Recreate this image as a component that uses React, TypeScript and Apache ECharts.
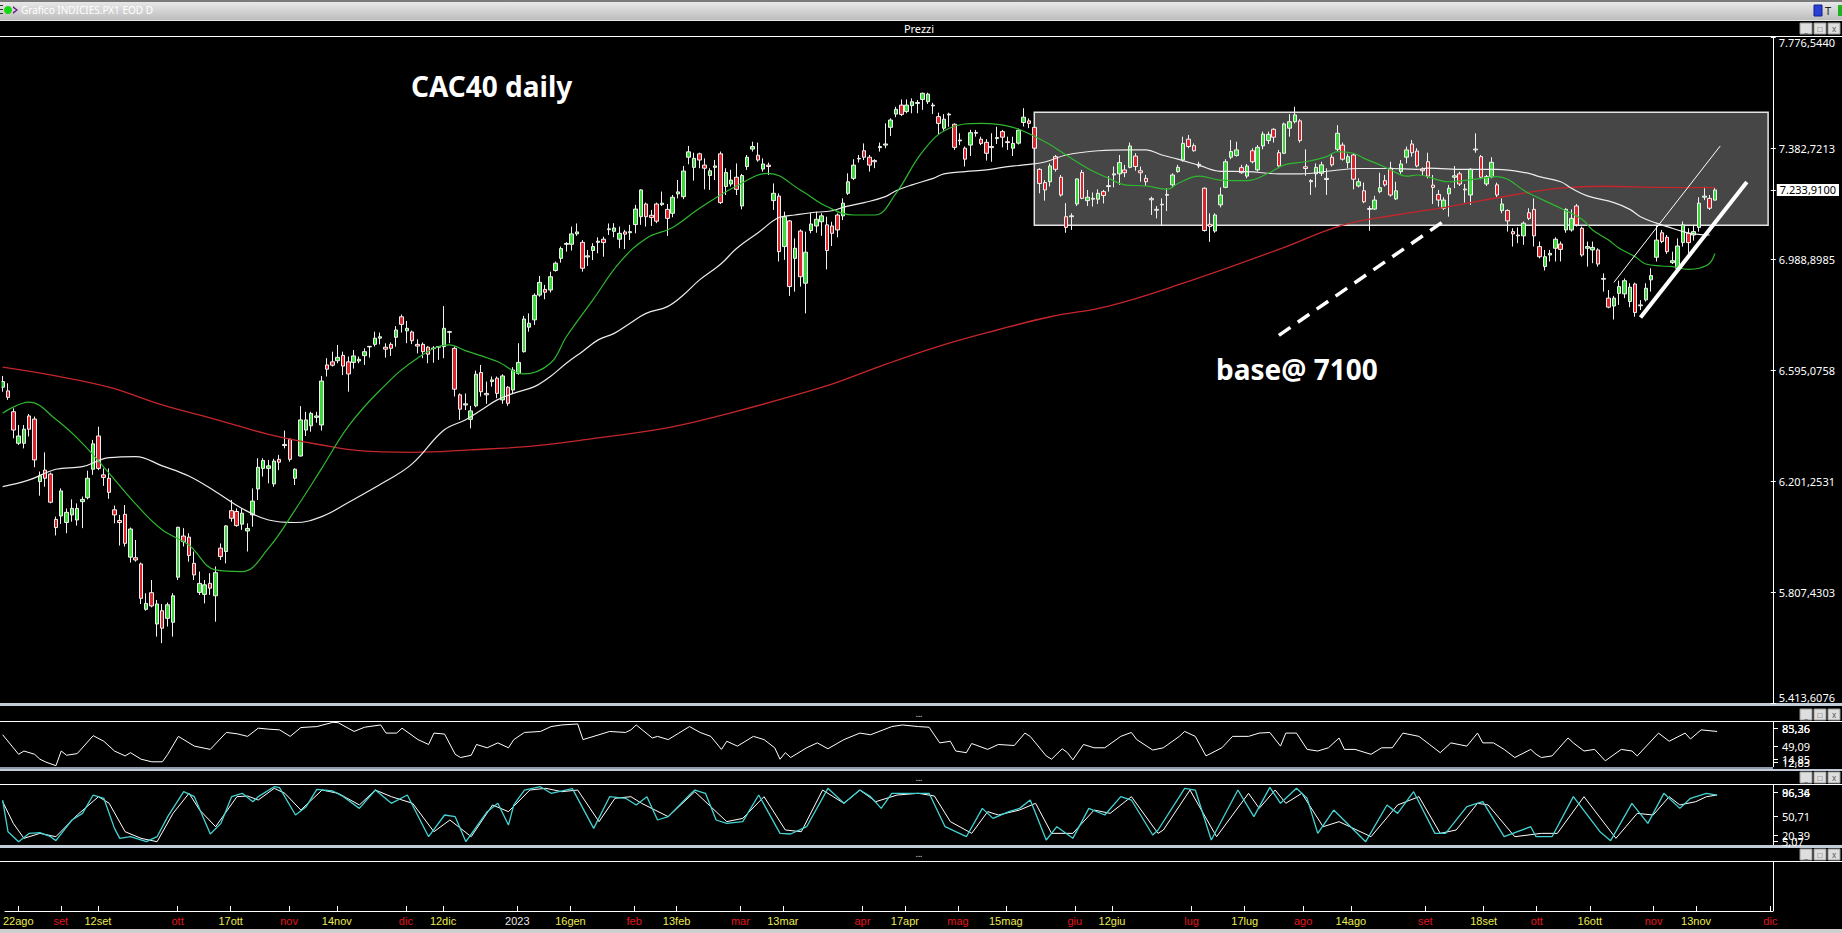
import React, { useEffect, useRef } from "react";
import * as echarts from "echarts";

// ---------- DATA (index 0 = 18 ago 2022, one slot per trading day) ----------
const CATEGORY_COUNT = 333;

// [open, close, low, high]
const CANDLES: number[][] = [
  [6534,6554,6518,6574],[6521,6498,6489,6548],[6447,6382,6353,6459],[6335,6361,6329,6400],[6335,6385,6317,6400],
  [6432,6385,6359,6439],[6421,6276,6250,6430],[6199,6220,6149,6235],[6240,6211,6181,6303],[6226,6126,6122,6231],
  [6065,6036,6008,6075],[6077,6166,6049,6175],[6054,6090,6016,6104],[6081,6104,6057,6136],[6063,6104,6043,6122],
  [6128,6136,6034,6146],[6142,6211,6136,6238],[6243,6333,6223,6347],[6361,6246,6240,6394],[6223,6214,6184,6246],
  [6211,6161,6138,6246],[6099,6081,6051,6114],[6061,6054,5972,6081],[6083,5980,5969,6116],[5931,6031,5912,6036],
  [5929,5921,5915,5992],[5907,5785,5765,5912],[5746,5767,5741,5803],[5805,5758,5753,5850],[5694,5765,5649,5779],
  [5741,5679,5626,5765],[5714,5762,5685,5770],[5700,5794,5649,5803],[5860,6037,5850,6039],[6006,5986,5969,6034],
  [6002,5937,5915,6016],[5909,5868,5850,5951],[5806,5838,5797,5880],[5799,5833,5767,5850],[5838,5821,5797,5874],
  [5794,5876,5702,5898],[5963,5933,5921,5980],[5951,6042,5909,6045],[6096,6069,6057,6134],[6093,6043,6039,6104],
  [6048,6087,6028,6104],[6024,6033,5951,6051],[6081,6130,6039,6175],[6173,6250,6134,6282],[6246,6274,6217,6282],
  [6246,6255,6193,6276],[6191,6272,6181,6280],[6278,6268,6240,6294],[6327,6331,6317,6380],[6349,6278,6270,6353],
  [6211,6243,6187,6246],[6290,6418,6288,6467],[6382,6418,6361,6447],[6397,6441,6376,6447],[6427,6432,6408,6447],
  [6400,6556,6380,6574],[6613,6598,6572,6637],[6624,6612,6607,6660],[6628,6640,6619,6684],[6647,6609,6577,6660],
  [6624,6581,6518,6643],[6622,6645,6600,6666],[6627,6633,6619,6643],[6646,6660,6613,6672],[6677,6679,6639,6680],
  [6686,6708,6678,6731],[6708,6713,6686,6728],[6676,6669,6639,6690],[6686,6672,6645,6693],[6711,6737,6678,6751],
  [6784,6757,6728,6792],[6734,6743,6690,6769],[6730,6699,6687,6735],[6686,6680,6654,6704],[6686,6660,6637,6693],
  [6676,6651,6619,6680],[6673,6671,6621,6680],[6676,6678,6631,6680],[6678,6743,6637,6822],[6729,6731,6690,6734],
  [6672,6527,6501,6678],[6507,6456,6418,6512],[6471,6475,6453,6512],[6420,6450,6388,6468],[6468,6580,6463,6593],
  [6586,6518,6501,6613],[6512,6507,6475,6554],[6554,6560,6536,6572],[6566,6512,6495,6572],[6489,6574,6475,6580],
  [6534,6477,6468,6538],[6524,6595,6512,6605],[6583,6622,6578,6690],[6660,6776,6657,6787],[6747,6761,6731,6796],
  [6773,6860,6755,6867],[6861,6906,6855,6929],[6881,6871,6846,6897],[6879,6926,6870,6944],[6948,6974,6944,6980],
  [6991,7026,6976,7033],[7041,7044,7015,7049],[7041,7078,7019,7104],[7078,7085,7071,7115],[7048,6956,6944,7056],
  [6996,7000,6964,7021],[7019,7033,6985,7045],[7048,7052,7009,7066],[7059,7047,6997,7068],[7093,7096,7074,7115],
  [7087,7099,7066,7116],[7059,7080,7027,7104],[7085,7077,7024,7092],[7082,7086,7056,7110],[7111,7166,7080,7181],
  [7139,7234,7110,7236],[7184,7139,7104,7189],[7144,7136,7106,7163],[7184,7123,7116,7189],[7182,7187,7177,7228],
  [7165,7133,7071,7184],[7151,7208,7137,7216],[7220,7227,7204,7269],[7210,7301,7201,7319],[7350,7369,7325,7390],
  [7314,7346,7267,7366],[7362,7340,7311,7366],[7322,7311,7236,7346],[7285,7302,7234,7311],[7314,7319,7269,7340],
  [7362,7189,7184,7370],[7246,7296,7216,7311],[7255,7269,7246,7305],[7279,7236,7216,7328],[7177,7285,7165,7291],
  [7317,7350,7305,7358],[7379,7388,7370,7405],[7357,7340,7334,7402],[7308,7326,7299,7346],[7322,7317,7287,7331],
  [7196,7222,7163,7257],[7212,7015,6980,7222],[7033,7139,6986,7157],[7124,6891,6858,7127],[6991,7027,6873,7062],
  [7088,6926,6891,7094],[6903,7013,6796,7086],[7090,7113,7080,7153],[7106,7130,7082,7157],[7121,7142,7071,7151],
  [7110,7019,6952,7139],[7106,7080,7035,7121],[7145,7092,7066,7151],[7142,7187,7127,7204],[7222,7263,7216,7293],
  [7275,7322,7269,7343],[7344,7346,7331,7358],[7373,7350,7340,7399],[7350,7322,7299,7358],[7338,7334,7311,7343],
  [7384,7388,7370,7402],[7393,7397,7382,7470],[7456,7482,7425,7488],[7503,7520,7492,7529],[7535,7502,7496,7555],
  [7512,7535,7506,7555],[7533,7547,7506,7559],[7541,7544,7506,7553],[7555,7577,7518,7579],[7547,7574,7539,7579],
  [7532,7535,7503,7543],[7494,7470,7429,7508],[7453,7485,7444,7503],[7500,7503,7458,7508],[7467,7385,7376,7470],
  [7408,7411,7393,7435],[7382,7343,7317,7388],[7393,7437,7354,7447],[7435,7438,7423,7447],[7414,7399,7393,7423],
  [7403,7364,7338,7414],[7388,7384,7334,7435],[7416,7420,7397,7458],[7441,7421,7385,7447],[7405,7402,7376,7423],
  [7382,7399,7354,7423],[7400,7446,7395,7452],[7473,7492,7459,7524],[7479,7470,7453,7488],[7456,7382,7376,7461],
  [7307,7257,7222,7311],[7260,7234,7196,7269],[7263,7319,7246,7328],[7352,7307,7299,7358],[7279,7216,7210,7287],
  [7139,7101,7082,7187],[7139,7142,7092,7151],[7184,7273,7177,7275],[7296,7204,7201,7305],[7196,7208,7177,7234],
  [7201,7204,7175,7225],[7201,7222,7184,7236],[7228,7214,7186,7234],[7246,7249,7228,7283],[7287,7291,7243,7317],
  [7291,7331,7252,7358],[7305,7295,7279,7323],[7314,7390,7311,7402],[7354,7317,7302,7364],[7302,7295,7263,7317],
  [7275,7263,7248,7287],[7203,7199,7145,7210],[7165,7162,7133,7177],[7181,7183,7106,7204],[7215,7218,7159,7240],
  [7252,7287,7243,7293],[7299,7314,7295,7323],[7340,7399,7334,7423],[7414,7388,7382,7429],[7391,7373,7370,7399],
  [7325,7319,7311,7334],[7240,7090,7086,7243],[7112,7104,7050,7151],[7088,7145,7082,7151],[7181,7216,7172,7243],
  [7243,7334,7240,7343],[7350,7370,7343,7411],[7356,7376,7352,7405],[7313,7295,7291,7323],[7283,7319,7275,7326],
  [7373,7334,7328,7382],[7305,7385,7299,7393],[7390,7432,7378,7441],[7409,7431,7397,7441],[7449,7421,7402,7453],
  [7366,7319,7311,7376],[7364,7468,7362,7473],[7453,7476,7423,7503],[7476,7500,7470,7529],[7479,7409,7402,7485],
  [7316,7310,7284,7378],[7263,7267,7216,7272],[7291,7314,7243,7328],[7293,7323,7283,7334],[7271,7275,7216,7311],
  [7350,7323,7317,7362],[7378,7435,7370,7464],[7393,7343,7338,7402],[7331,7352,7311,7362],[7358,7272,7236,7364],
  [7248,7263,7243,7275],[7231,7192,7187,7260],[7168,7165,7089,7177],[7166,7198,7163,7213],[7228,7242,7222,7295],
  [7267,7252,7246,7287],[7311,7216,7210,7334],[7202,7231,7198,7263],[7299,7326,7291,7340],[7350,7376,7328,7388],
  [7397,7366,7352,7411],[7372,7319,7314,7382],[7308,7302,7287,7314],[7334,7283,7275,7366],[7251,7243,7184,7287],
  [7218,7198,7175,7234],[7169,7198,7163,7208],[7220,7240,7139,7252],[7279,7284,7240,7319],[7291,7255,7248,7299],
  [7237,7234,7189,7255],[7216,7307,7181,7311],[7379,7376,7366,7435],[7352,7279,7272,7358],[7255,7281,7248,7287],
  [7281,7332,7275,7350],[7252,7216,7208,7260],[7161,7184,7151,7204],[7161,7124,7086,7165],[7086,7078,7033,7098],
  [7074,7071,7045,7101],[7071,7116,7039,7122],[7153,7133,7127,7169],[7165,7071,7033,7204],[7033,6997,6991,7051],
  [6962,6997,6948,7021],[7003,7009,6980,7021],[7027,7059,6980,7066],[7042,7023,6980,7051],[7092,7165,7082,7169],
  [7092,7133,7086,7165],[7177,7110,7104,7184],[7098,7003,6997,7104],[7027,7033,6962,7051],[7021,7030,6974,7051],
  [7021,6971,6962,7027],[6920,6917,6873,6938],[6850,6818,6814,6879],[6822,6850,6774,6858],[6867,6891,6826,6912],
  [6865,6912,6850,6920],[6838,6889,6818,6903],[6900,6799,6784,6905],[6823,6826,6808,6843],[6844,6885,6838,6903],
  [6915,6930,6873,6956],[6995,7056,6980,7110],[7082,7051,7045,7092],[7066,7015,7007,7074],[6976,6983,6971,7015],
  [6956,7035,6952,7062],[7047,7110,7033,7122],[7080,7047,7009,7098],[7074,7086,7054,7110],[7101,7187,7086,7208],
  [7208,7212,7198,7245],[7204,7169,7163,7216],[7198,7233.91,7196,7243],
];

// moving averages: [day index, value]
const MA_GREEN: number[][] = [
  [0,6442],[5,6481],[10,6420],[15,6335],[20,6229],[25,6120],[30,6028],[35,5974],[40,5886],[45,5880],[50,5963],
  [55,6099],[60,6246],[65,6395],[71,6524],[78,6637],[84,6684],[87,6664],[93,6625],[98,6581],[103,6619],[106,6713],
  [111,6844],[116,6976],[121,7062],[126,7101],[131,7168],[138,7248],[144,7293],[150,7234],[155,7175],[160,7145],
  [164,7145],[168,7222],[173,7370],[178,7453],[184,7470],[190,7456],[196,7405],[200,7358],[204,7311],[208,7275],
  [211,7252],[215,7248],[219,7236],[221,7257],[225,7283],[229,7269],[234,7267],[238,7293],[241,7323],[245,7334],
  [249,7352],[251,7370],[254,7364],[256,7346],[259,7323],[261,7305],[264,7283],[266,7287],[272,7263],[278,7275],
  [281,7281],[287,7222],[293,7169],[297,7130],[299,7092],[302,7056],[304,7027],[307,6997],[309,6971],[312,6964],
  [314,6962],[317,6952],[319,6956],[321,6974],[322,7009],
];
const MA_WHITE: number[][] = [
  [0,6181],[5,6205],[10,6243],[15,6252],[20,6284],[25,6288],[30,6255],[35,6219],[40,6164],[45,6104],[50,6063],
  [55,6054],[60,6075],[65,6125],[72,6200],[77,6262],[83,6382],[87,6418],[90,6453],[93,6489],[96,6512],[100,6536],
  [103,6572],[106,6619],[109,6660],[112,6702],[115,6725],[118,6761],[121,6796],[125,6820],[128,6861],[131,6914],
  [135,6970],[138,7026],[142,7081],[146,7136],[149,7145],[152,7153],[156,7160],[158,7172],[162,7189],[166,7210],
  [168,7231],[171,7252],[175,7275],[177,7291],[181,7299],[185,7305],[188,7314],[192,7323],[196,7333],[200,7358],
  [206,7373],[212,7376],[215,7376],[218,7358],[221,7343],[225,7321],[229,7300],[234,7299],[240,7291],[244,7291],
  [250,7302],[255,7310],[261,7310],[266,7307],[268,7311],[275,7307],[281,7307],[287,7293],[289,7281],[293,7263],
  [295,7240],[298,7213],[303,7189],[306,7165],[308,7139],[311,7116],[313,7104],[316,7086],[318,7078],[321,7074],
];
const MA_RED: number[][] = [
  [0,6605],[10,6574],[20,6534],[30,6471],[40,6420],[50,6367],[60,6329],[67,6309],[77,6303],[88,6312],[99,6324],
  [110,6349],[125,6390],[133,6424],[154,6533],[165,6608],[176,6679],[187,6737],[197,6784],[208,6822],[222,6903],
  [240,7023],[252,7109],[262,7145],[272,7175],[284,7216],[293,7240],[301,7247],[312,7243],[322,7242],
];

const RSI: number[][] = [
  [0,64.8],[2,43.8],[3,33.3],[4,38.6],[6,33.3],[7,25.4],[8,21.2],[10,14.9],[11,38.6],[12,31.8],[14,34.4],[17,63.3],
  [19,54.3],[21,38.6],[23,30.7],[24,35.9],[26,25.4],[28,21.2],[30,21.2],[31,33.3],[33,62.2],[36,46.5],[39,41.2],
  [42,68.5],[44,66.4],[46,62.2],[48,75.4],[50,73.8],[52,72.7],[54,62.2],[56,76.4],[59,78.0],[62,84.8],[63,84.3],
  [66,70.1],[68,77.0],[71,80.6],[72,67.5],[74,67.5],[75,75.4],[78,57.0],[80,49.1],[81,67.5],[83,65.9],[85,33.3],
  [86,28.1],[88,31.7],[89,49.1],[91,43.8],[93,51.7],[95,43.8],[96,57.0],[98,68.5],[101,70.1],[103,78.0],[105,80.6],
  [108,82.2],[109,57.0],[112,64.8],[114,70.1],[117,68.5],[118,72.7],[119,80.6],[122,59.6],[123,62.2],[125,57.0],
  [127,67.5],[129,78.0],[131,68.5],[133,62.2],[135,41.2],[136,54.3],[138,46.5],[141,62.2],[143,57.0],[145,43.8],
  [146,25.4],[147,35.9],[148,28.1],[151,43.8],[153,51.7],[155,42.2],[158,57.0],[161,67.5],[163,64.8],[167,78.0],
  [169,80.6],[172,78.0],[174,76.9],[176,51.7],[178,54.3],[179,38.6],[181,35.9],[182,50.7],[185,41.2],[187,49.1],
  [190,47.5],[192,67.5],[193,62.0],[196,30.7],[197,25.4],[199,42.2],[200,35.9],[201,24.4],[203,49.1],[205,43.8],
  [207,43.8],[210,62.2],[212,68.5],[213,57.0],[216,40.2],[218,43.8],[221,62.2],[222,70.1],[224,62.2],[226,30.7],
  [229,43.8],[231,62.2],[234,62.2],[236,67.5],[238,68.5],[240,46.5],[241,67.5],[243,67.5],[245,41.2],[247,38.6],
  [249,43.8],[251,59.6],[252,41.2],[254,41.2],[257,33.3],[259,43.8],[261,43.8],[263,67.5],[266,62.2],[268,49.1],
  [270,35.9],[272,51.7],[275,46.5],[277,67.5],[278,51.7],[280,51.7],[282,41.2],[284,28.1],[287,41.2],[288,33.3],
  [289,28.1],[291,30.7],[294,59.6],[295,51.7],[297,38.6],[299,41.2],[301,22.8],[304,41.2],[306,38.6],[307,30.7],
  [311,67.5],[313,54.3],[316,67.5],[317,58.0],[319,72.7],[322,70.1],
];

const STOCH_K: number[][] = [
  [0,73.5],[1,25.3],[3,10.1],[5,22.8],[7,23.8],[9,17.7],[10,11.7],[13,43.1],[15,53.2],[17,81.1],[19,76.1],[21,30.4],
  [22,15.2],[24,17.7],[27,10.1],[29,17.7],[31,48.2],[34,86.2],[36,78.6],[39,21.8],[41,38.0],[43,78.6],[45,83.7],
  [47,71.0],[48,78.6],[51,93.8],[52,92.3],[55,50.7],[57,63.4],[59,89.8],[62,87.2],[64,78.6],[67,60.8],[70,88.7],
  [73,68.5],[76,81.1],[80,17.7],[83,50.7],[85,48.2],[87,10.1],[91,55.8],[93,68.5],[95,35.5],[96,66.0],[98,88.7],
  [101,93.8],[103,83.7],[107,90.8],[111,30.4],[114,78.6],[117,76.1],[119,66.0],[121,78.6],[123,43.1],[125,48.2],
  [129,81.1],[130,88.7],[132,83.7],[134,43.1],[136,38.0],[139,40.6],[142,81.1],[146,22.8],[148,21.8],[151,32.9],
  [155,91.3],[158,68.5],[161,88.7],[163,78.6],[165,60.8],[167,83.7],[169,83.7],[172,83.7],[174,83.7],[177,32.9],
  [181,17.7],[184,60.8],[186,45.6],[189,55.8],[191,60.8],[193,73.5],[196,12.7],[198,32.9],[201,15.2],[204,60.8],
  [207,50.7],[210,78.6],[212,73.5],[216,20.3],[217,27.9],[222,91.3],[224,88.7],[227,12.7],[232,88.7],[235,48.2],
  [238,92.8],[240,68.5],[243,91.3],[245,76.1],[247,22.8],[250,58.3],[256,10.1],[260,66.0],[262,53.2],[265,86.2],
  [269,22.8],[271,22.8],[275,63.4],[278,71.0],[282,17.7],[287,32.9],[288,17.7],[291,17.7],[295,78.6],[300,25.3],
  [302,11.7],[306,68.5],[309,38.0],[312,83.7],[315,60.8],[317,76.1],[320,83.7],[322,81.1],
];
const STOCH_D: number[][] = [
  [0,71.0],[2,38.0],[4,15.2],[7,22.8],[10,17.7],[14,50.7],[18,78.6],[20,68.5],[23,25.3],[26,15.2],[29,10.1],
  [32,53.2],[35,83.7],[37,58.3],[40,32.9],[44,78.6],[46,79.6],[48,73.5],[51,91.3],[53,83.7],[56,58.3],[60,88.7],
  [63,83.7],[67,66.0],[70,88.7],[73,78.6],[77,68.5],[81,25.3],[84,43.1],[88,17.7],[92,66.0],[95,55.8],[99,88.7],
  [102,91.3],[105,86.2],[108,88.7],[112,40.6],[115,76.1],[118,78.6],[120,68.5],[125,48.2],[130,86.2],[134,55.8],
  [136,40.6],[139,45.6],[143,78.6],[147,27.9],[150,25.3],[154,88.7],[158,68.5],[161,88.7],[164,71.0],[168,81.1],
  [172,83.7],[175,79.6],[178,40.6],[182,22.8],[185,55.8],[187,50.7],[191,58.3],[194,68.5],[197,22.8],[201,22.8],
  [205,58.3],[208,53.2],[212,78.6],[217,22.8],[218,27.9],[223,88.7],[228,17.7],[234,83.7],[236,60.8],[239,88.7],
  [241,68.5],[244,83.7],[248,32.9],[251,40.6],[257,17.7],[262,66.0],[266,78.6],[270,22.8],[273,27.9],[277,68.5],
  [279,66.0],[284,17.7],[289,22.8],[292,22.8],[297,78.6],[303,15.2],[307,53.2],[310,50.7],[313,78.6],[315,66.0],
  [318,71.0],[320,78.6],[322,81.1],
];

// date axis: [day index, label, kind]
const DATE_TICKS: [number, string, string][] = [
  [2,"22ago","d"],[10,"set","m"],[17,"12set","d"],[32,"ott","m"],[42,"17ott","d"],[53,"nov","m"],[62,"14nov","d"],
  [75,"dic","m"],[82,"12dic","d"],[96,"2023","y"],[106,"16gen","d"],[118,"feb","m"],[126,"13feb","d"],[138,"mar","m"],
  [146,"13mar","d"],[161,"apr","m"],[169,"17apr","d"],[179,"mag","m"],[188,"15mag","d"],[201,"giu","m"],[208,"12giu","d"],
  [223,"lug","m"],[233,"17lug","d"],[244,"ago","m"],[253,"14ago","d"],[267,"set","m"],[278,"18set","d"],[288,"ott","m"],
  [298,"16ott","d"],[310,"nov","m"],[318,"13nov","d"],[332,"dic","m"],
];

const PRICE_MIN = 5413.6076;
const PRICE_MAX = 7776.544;
const PRICE_TICKS = [5413.6076, 5807.4303, 6201.2531, 6595.0758, 6988.8985, 7382.7213, 7776.544];
const LAST_PRICE = 7233.91;

// drawn annotations: [day index, price]
const RANGE_BOX = { from: 194, to: 332, low: 7108.6, high: 7509.4 };
const BASE_TREND = [[240, 6718], [272, 7136]];
const SUPPORT_TREND = [[308, 6781], [328, 7262]];
const CHANNEL_TREND = [[303, 6906], [323, 7390]];

const RSI_RANGE = [12.83, 85.36];
const STOCH_RANGE = [5.07, 96.36];
// oscillator scale captions (text, screen row)
const RSI_LABELS: [string, number][] = [["85,36", 728], ["83,26", 728], ["49,09", 746], ["14,85", 759], ["12,83", 762]];
const STOCH_LABELS: [string, number][] = [["96,36", 792], ["86,34", 792], ["50,71", 816], ["20,39", 835], ["5,07", 841]];

// ---------- helpers ----------
const fmtIt = (v: number, d: number) => {
  const s = v.toFixed(d);
  const [i, f] = s.split(".");
  const ii = i.replace(/\B(?=(\d{3})+(?!\d))/g, ".");
  return f ? ii + "," + f : ii;
};

const FONT = "Noto Sans";
const PLOT_W = 1773;

const rect = (x: number, y: number, w: number, h: number, fill: any, extra: any = {}, z = 0) => ({
  type: "rect", silent: true, z, shape: { x, y, width: w, height: h }, style: { fill, ...extra },
});
const txt = (x: number, y: number, t: string, o: any = {}) => ({
  type: "text", silent: true, x, y, z: 50,
  style: {
    text: t, fill: o.fill || "#fff", fontSize: o.size || 11, fontFamily: o.family || FONT,
    fontWeight: o.weight || "normal", align: o.align || "left", verticalAlign: "middle",
    textAlign: o.align || "left", textVerticalAlign: "middle",
  },
});
const buttons = (y: number) => {
  const out: any[] = [];
  [1800, 1814, 1828].forEach((x, k) => {
    out.push(rect(x, y, 12, 11, "#dedede", { stroke: "#9a9a9a", lineWidth: 1 }));
    out.push(txt(x + 6, y + 5.5, ["_", "□", "x"][k], { fill: "#555", size: 8, align: "center" }));
  });
  return out;
};

export default function App() {
  const ref = useRef<HTMLDivElement>(null);

  useEffect(() => {
    document.body.style.margin = "0";
    const el = ref.current!;
    const chart = echarts.init(el, null, { renderer: "svg", width: 1842, height: 933 });

    const cats = Array.from({ length: CATEGORY_COUNT }, (_, i) => String(i));
    const tickMap = new Map(DATE_TICKS.map((d) => [String(d[0]), d]));
    const colorOf = (k: string) => (k === "m" ? "#e4141c" : k === "y" ? "#e8e8e8" : "#ecec52");

    const sideLabels = (labels: [string, number][]) => {
      const out: any[] = [];
      labels.forEach(([t, y]) => {
        out.push(txt(1782, y, t, { size: 11 }));
        out.push(rect(PLOT_W, Math.round(y), 5, 1, "#fff"));
      });
      return out;
    };

    const graphics: any[] = [
      // window title bar
      rect(0, 0, 1842, 20, new echarts.graphic.LinearGradient(0, 0, 0, 1, [
        { offset: 0, color: "#ececec" }, { offset: 1, color: "#bdbdbd" },
      ])),
      rect(0, 0, 1842, 2, "#7a7a7a"),
      rect(0, 5, 3, 1, "#333"), rect(0, 9, 3, 1, "#333"), rect(0, 13, 3, 1, "#333"),
      { type: "circle", silent: true, shape: { cx: 8, cy: 10, r: 4 }, style: { fill: "#12d812" } },
      { type: "polygon", silent: true, shape: { points: [[13, 6], [18, 10], [13, 14], [13, 12], [16, 10], [13, 8]] }, style: { fill: "#6a1a8a" } },
      txt(21, 10, "Grafico INDICIES.PX1 EOD D", { fill: "#ffffff", size: 10 }),
      rect(1814, 5, 8, 11, "#2a3fd6", { stroke: "#12208a", lineWidth: 1 }),
      txt(1828, 10, "T", { fill: "#222", size: 11, align: "center" }),
      rect(1838, 5, 4, 11, "#20b020"),
      rect(0, 20, 1842, 1, "#e6e6e6"),
      // Prezzi header
      txt(919, 28, "Prezzi", { size: 11, align: "center" }),
      ...buttons(23),
      rect(0, 36, 1842, 1, "#ffffff"),
      // left edge of the panes stays black
      rect(0, 37, 1.5, 666, "#000000", {}, 40),
      // right borders of the panes
      rect(PLOT_W, 37, 1, 666, "#ffffff"),
      rect(PLOT_W, 722, 1, 45, "#ffffff"),
      rect(PLOT_W, 785, 1, 60, "#ffffff"),
      rect(PLOT_W, 862, 1, 49, "#ffffff"),
      // separators under main pane
      rect(0, 703, 1842, 3, "#c2ccd8"),
      txt(919, 713, "...", { size: 8, align: "center" }),
      ...buttons(709),
      rect(0, 721, 1842, 1, "#ffffff"),
      rect(0, 767, PLOT_W, 2, "#8e98aa"),
      rect(0, 769, 1842, 2, "#c2ccd8"),
      txt(919, 777, "...", { size: 8, align: "center" }),
      ...buttons(772),
      rect(0, 784, 1842, 1, "#ffffff"),
      rect(0, 845, 1842, 3, "#c2ccd8"),
      txt(919, 853, "...", { size: 8, align: "center" }),
      ...buttons(849),
      rect(0, 861, 1842, 1, "#ffffff"),
      rect(0, 929, 1842, 4, "#cfcfcf"),
      // side labels of oscillator panes
      ...sideLabels(RSI_LABELS),
      ...sideLabels(STOCH_LABELS),
      // annotations
      txt(411, 86, "CAC40 daily", { size: 28, weight: "bold" }),
      txt(1216, 369, "base@ 7100", { size: 28, weight: "bold" }),
    ];

    const hiddenCat = (gridIndex: number) => ({
      type: "category", gridIndex, data: cats, boundaryGap: true, show: false,
      axisLine: { show: false, onZero: false },
    });
    const sideAxis = (gridIndex: number, min: number, max: number) => ({
      type: "value", gridIndex, position: "right", min, max, show: false,
      axisLine: { show: false, onZero: false }, axisTick: { show: false },
      axisLabel: { show: false }, splitLine: { show: false },
    });

    const option: any = {
      animation: false,
      backgroundColor: "#000000",
      grid: [
        { left: 0, top: 37, width: PLOT_W, height: 666 },
        { left: 0, top: 722, width: PLOT_W, height: 45 },
        { left: 0, top: 785, width: PLOT_W, height: 60 },
        { left: 0, top: 862, width: PLOT_W, height: 49 },
      ],
      xAxis: [
        hiddenCat(0),
        hiddenCat(1),
        hiddenCat(2),
        {
          type: "category", gridIndex: 3, data: cats, boundaryGap: true, position: "bottom",
          axisLine: { show: true, onZero: false, lineStyle: { color: "#ffffff", width: 1 } },
          axisTick: {
            show: true, inside: true, length: 5, alignWithLabel: true,
            interval: (i: number) => tickMap.has(String(i)),
            lineStyle: { color: "#ffffff" },
          },
          axisLabel: {
            show: true, margin: 4, fontSize: 11, fontFamily: "Liberation Sans",
            interval: (i: number) => tickMap.has(String(i)),
            formatter: (v: string) => (tickMap.get(v) ? tickMap.get(v)![1] : ""),
            color: (v: string) => colorOf(tickMap.get(v) ? tickMap.get(v)![2] : "d"),
          },
          splitLine: { show: false },
        },
      ],
      yAxis: [
        {
          type: "value", gridIndex: 0, position: "right", min: PRICE_MIN, max: PRICE_MAX,
          axisLine: { show: false, onZero: false },
          axisTick: { show: true, length: 5, customValues: PRICE_TICKS, lineStyle: { color: "#ffffff" } },
          axisLabel: {
            color: "#ffffff", fontSize: 11, fontFamily: FONT, margin: 8,
            customValues: PRICE_TICKS,
            formatter: (v: number) => fmtIt(v, 4),
            verticalAlignMaxLabel: "top", verticalAlignMinLabel: "bottom",
          },
          splitLine: { show: false },
        },
        sideAxis(1, RSI_RANGE[0], RSI_RANGE[1]),
        sideAxis(2, STOCH_RANGE[0], STOCH_RANGE[1]),
        sideAxis(3, 0, 1),
        {
          // last-price marker on the price scale
          type: "value", gridIndex: 0, position: "right", min: PRICE_MIN, max: PRICE_MAX,
          axisLine: { show: false, onZero: false },
          axisTick: { show: true, length: 5, customValues: [LAST_PRICE], lineStyle: { color: "#ffffff" } },
          axisLabel: {
            show: true, customValues: [LAST_PRICE], margin: 6,
            formatter: (v: number) => fmtIt(v, 4),
            color: "#000000", backgroundColor: "#ffffff", padding: [1, 3, 0, 3],
            fontSize: 11, fontFamily: FONT,
          },
          splitLine: { show: false },
        },
      ],
      series: [
        {
          name: "box", type: "line", xAxisIndex: 0, yAxisIndex: 0, z: 1, silent: true,
          data: [[RANGE_BOX.from, RANGE_BOX.low], [RANGE_BOX.to, RANGE_BOX.high]],
          showSymbol: false, lineStyle: { opacity: 0, width: 0 },
          markArea: {
            silent: true,
            itemStyle: { color: "#464646", borderColor: "#e4e4e4", borderWidth: 1.5 },
            data: [[{ coord: [RANGE_BOX.from, RANGE_BOX.high] }, { coord: [RANGE_BOX.to, RANGE_BOX.low] }]],
          },
        },
        {
          name: "CAC40", type: "candlestick", xAxisIndex: 0, yAxisIndex: 0, z: 3,
          data: CANDLES, barWidth: 4,
          itemStyle: {
            color: "#3ad83a", color0: "#d8262c", borderColor: "#f2f2f2", borderColor0: "#f2f2f2", borderWidth: 1,
          },
        },
        {
          name: "MA200", type: "line", xAxisIndex: 0, yAxisIndex: 0, z: 4, data: MA_RED,
          showSymbol: false, smooth: 0.4, lineStyle: { color: "#c4262c", width: 1.3 },
        },
        {
          name: "MA50", type: "line", xAxisIndex: 0, yAxisIndex: 0, z: 4, data: MA_WHITE,
          showSymbol: false, smooth: 0.4, lineStyle: { color: "#ececec", width: 1.2 },
        },
        {
          name: "MA20", type: "line", xAxisIndex: 0, yAxisIndex: 0, z: 4, data: MA_GREEN,
          showSymbol: false, smooth: 0.4, lineStyle: { color: "#2fb82f", width: 1.2 },
        },
        {
          name: "base", type: "line", xAxisIndex: 0, yAxisIndex: 0, z: 5, data: BASE_TREND,
          showSymbol: false, lineStyle: { color: "#ffffff", width: 3.5, type: [14, 9] },
        },
        {
          name: "channel", type: "line", xAxisIndex: 0, yAxisIndex: 0, z: 5, data: CHANNEL_TREND,
          showSymbol: false, lineStyle: { color: "#ffffff", width: 1 },
        },
        {
          name: "support", type: "line", xAxisIndex: 0, yAxisIndex: 0, z: 5, data: SUPPORT_TREND,
          showSymbol: false, lineStyle: { color: "#ffffff", width: 4 },
        },
        {
          name: "RSI", type: "line", xAxisIndex: 1, yAxisIndex: 1, data: RSI,
          showSymbol: false, lineStyle: { color: "#ffffff", width: 1 },
        },
        {
          name: "StochD", type: "line", xAxisIndex: 2, yAxisIndex: 2, data: STOCH_D,
          showSymbol: false, lineStyle: { color: "#ffffff", width: 1 },
        },
        {
          name: "StochK", type: "line", xAxisIndex: 2, yAxisIndex: 2, data: STOCH_K,
          showSymbol: false, lineStyle: { color: "#44d2d2", width: 1.3 },
        },
      ],
      graphic: { elements: graphics },
    };

    chart.setOption(option);
    return () => chart.dispose();
  }, []);

  return <div ref={ref} style={{ width: 1842, height: 933, background: "#000" }} />;
}
